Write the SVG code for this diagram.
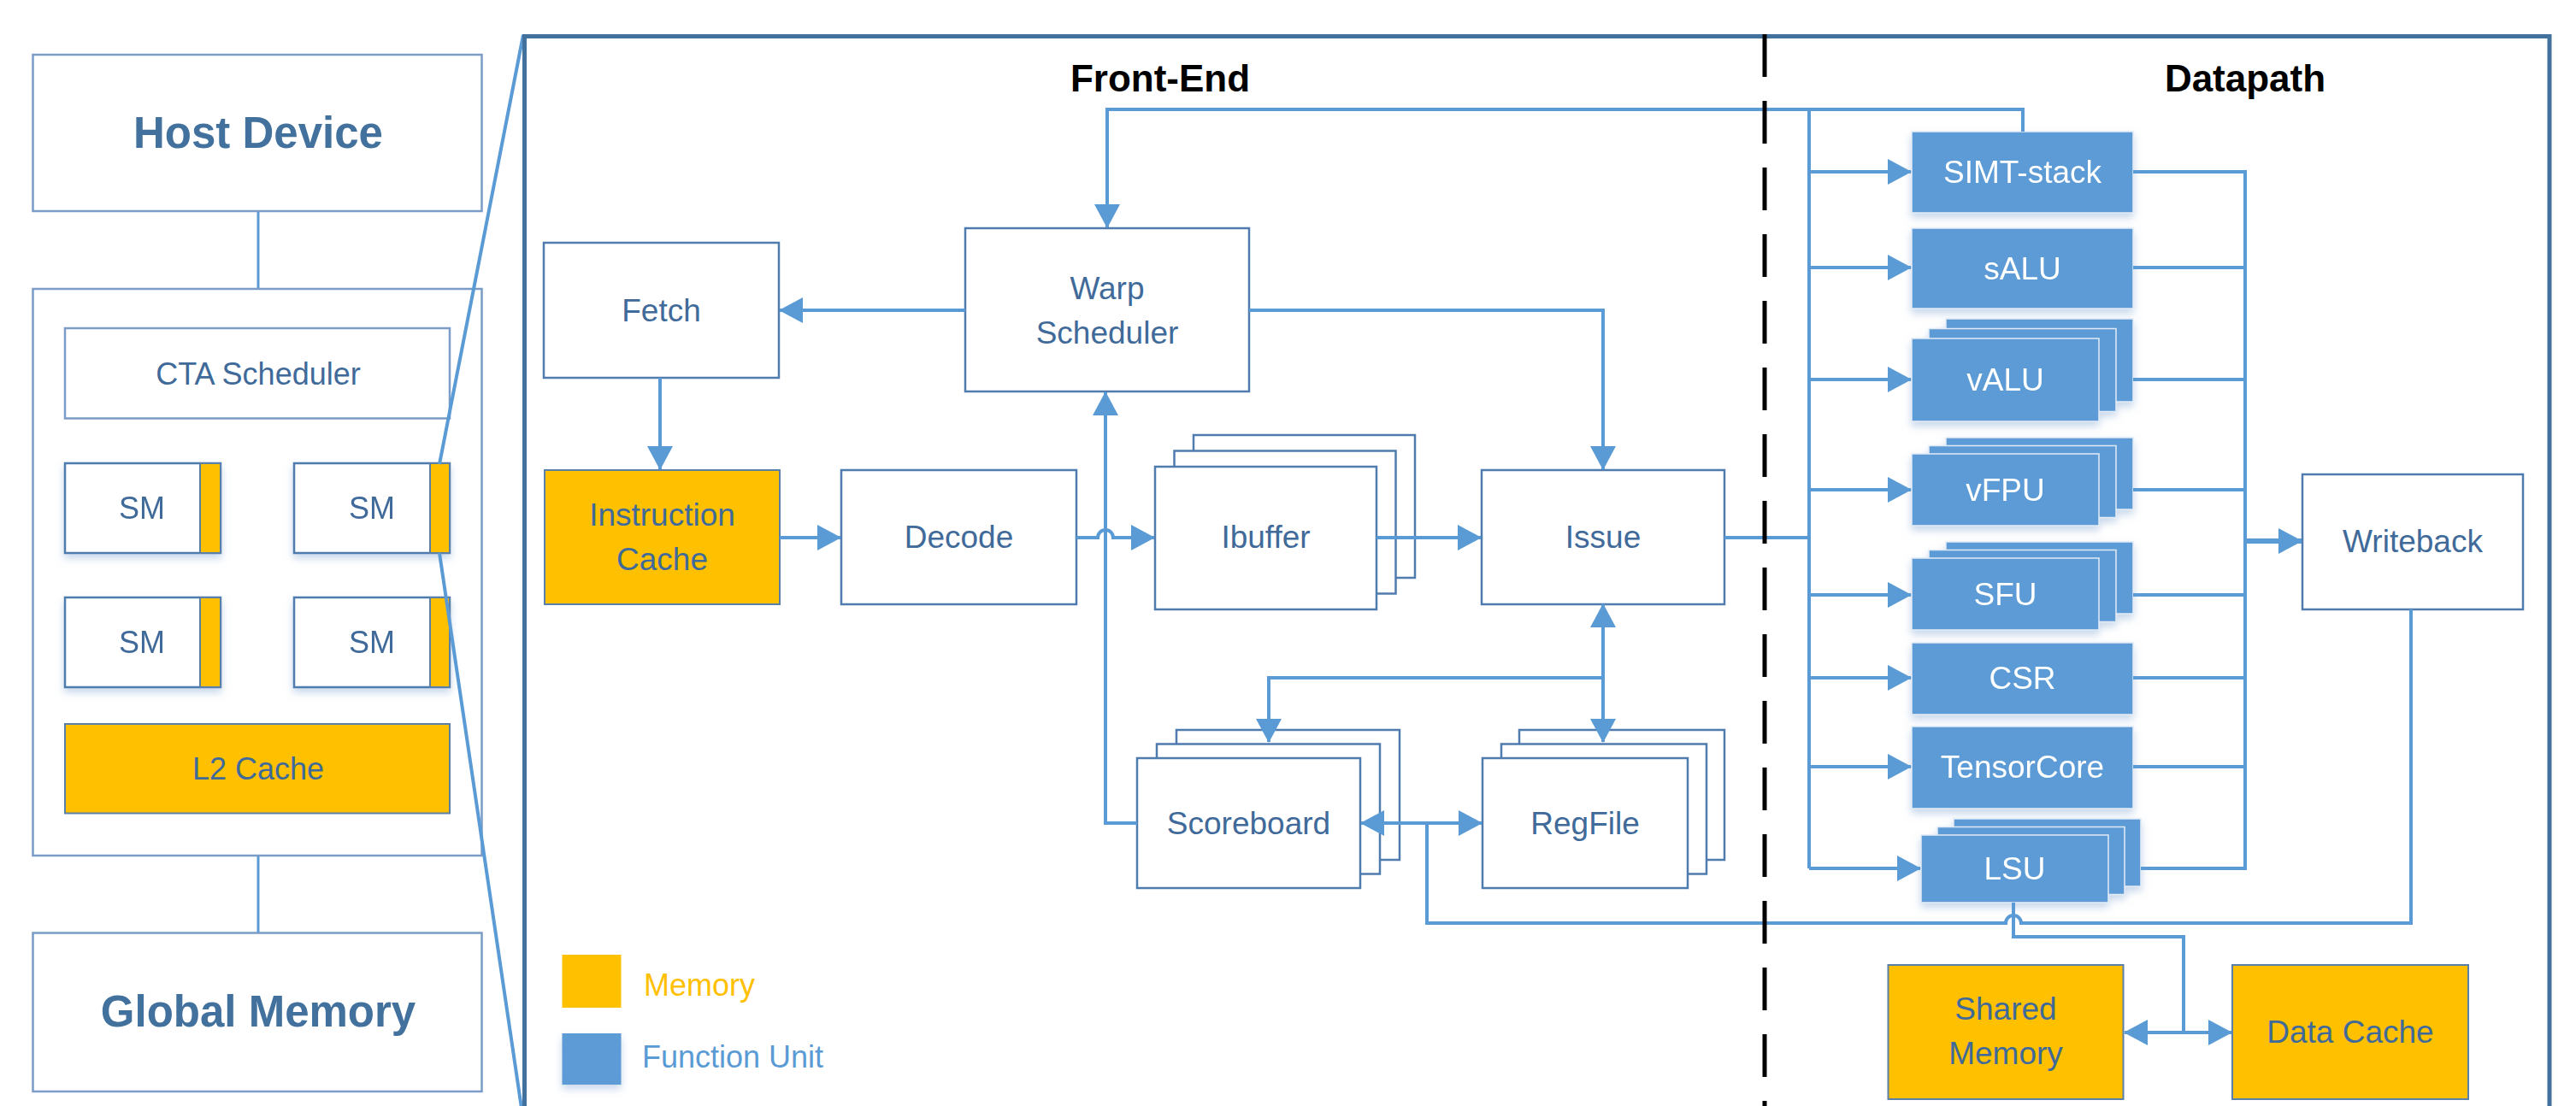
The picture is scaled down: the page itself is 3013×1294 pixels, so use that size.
<svg xmlns="http://www.w3.org/2000/svg" width="3013" height="1294" viewBox="0 0 3013 1294">
<style>
.box{fill:#fff;stroke:#4F7BAE;stroke-width:2.5}
.lbox{fill:#fff;stroke:#7A9CC6;stroke-width:2.5}
.mem{fill:#FFC000;stroke:#5A7FA8;stroke-width:2}
.fu{fill:#5B9BD5;stroke:#E3ECF6;stroke-width:1.5}
.t{font-family:"Liberation Sans",Arial,sans-serif;font-size:37px;fill:#3F6A99;text-anchor:middle}
.lt{font-family:"Liberation Sans",Arial,sans-serif;font-size:36px;fill:#3F6A99;text-anchor:middle}
.w{font-family:"Liberation Sans",Arial,sans-serif;font-size:37px;fill:#fff;text-anchor:middle}
.big{font-family:"Liberation Sans",Arial,sans-serif;font-size:51px;font-weight:bold;fill:#41719C;text-anchor:middle}
.title{font-family:"Liberation Sans",Arial,sans-serif;font-size:44px;font-weight:bold;fill:#000;text-anchor:middle}
.c{fill:none;stroke:#5B9BD5;stroke-width:4}
.lc{fill:none;stroke:#5B9BD5;stroke-width:3}
.a{marker-end:url(#ah)}
.aa{marker-start:url(#ah);marker-end:url(#ah)}
</style>
<defs>
<marker id="ah" markerUnits="userSpaceOnUse" markerWidth="28" markerHeight="30" viewBox="0 0 28 30" refX="27" refY="15" orient="auto-start-reverse">
<path d="M0,0 L28,15 L0,30 z" fill="#5B9BD5"/>
</marker>
<filter id="sh" x="-10%" y="-10%" width="120%" height="140%">
<feDropShadow dx="0" dy="5" stdDeviation="5" flood-color="#8FAFD6" flood-opacity="0.5"/>
</filter>
</defs>
<rect x="0" y="0" width="3013" height="1294" fill="#fff"/>

<!-- left panel -->
<g id="left-connectors">
<path class="lc" d="M302,247 V338"/>
<path class="lc" d="M302,489.5 V847"/>
<path class="lc" d="M167,647 V699 M436,647 V699 M167,671 H436"/>
<path class="lc" d="M302,1001 V1091.5"/>
</g>
<g id="host-device">
<rect class="lbox" x="38.5" y="64" width="525" height="183"/>
<text class="big" x="302" y="173">Host Device</text>
</g>
<g id="gpu">
<rect class="lbox" x="38.5" y="338" width="525" height="663"/>
</g>
<g id="cta-scheduler">
<rect class="lbox" x="76" y="384" width="450" height="105.5"/>
<text class="lt" x="302" y="450">CTA Scheduler</text>
</g>
<g id="sm1" filter="url(#sh)">
<rect class="box" x="76" y="542" width="182" height="105"/>
<rect class="mem" x="234" y="542" width="24" height="105"/>
<text class="lt" x="166" y="607">SM</text>
</g>
<g id="sm2" filter="url(#sh)">
<rect class="box" x="344" y="542" width="182" height="105"/>
<rect class="mem" x="503" y="542" width="23" height="105"/>
<text class="lt" x="435" y="607">SM</text>
</g>
<g id="sm3" filter="url(#sh)">
<rect class="box" x="76" y="699" width="182" height="105"/>
<rect class="mem" x="234" y="699" width="24" height="105"/>
<text class="lt" x="166" y="764">SM</text>
</g>
<g id="sm4" filter="url(#sh)">
<rect class="box" x="344" y="699" width="182" height="105"/>
<rect class="mem" x="503" y="699" width="23" height="105"/>
<text class="lt" x="435" y="764">SM</text>
</g>
<g id="l2-cache">
<rect class="mem" x="76" y="847" width="450" height="104.5"/>
<text class="lt" x="302" y="912">L2 Cache</text>
</g>
<g id="global-memory">
<rect class="lbox" x="38.5" y="1091.5" width="525" height="185.5"/>
<text class="big" x="302" y="1201">Global Memory</text>
</g>

<!-- zoom lines and SM detail frame -->
<g id="zoom-lines">
<path d="M514,543 L612,41 M514,647 L612,1310" fill="none" stroke="#5B9BD5" stroke-width="4"/>
</g>
<g id="sm-detail">
<rect x="613.5" y="42.5" width="2368.5" height="1290" fill="none" stroke="#41719C" stroke-width="5"/>
<text class="title" x="1357" y="107">Front-End</text>
<text class="title" x="2626" y="107">Datapath</text>
</g>

<!-- front-end nodes -->
<g id="fetch">
<rect class="box" x="636" y="284" width="275" height="158"/>
<text class="t" x="773.5" y="376">Fetch</text>
</g>
<g id="warp-scheduler">
<rect class="box" x="1129" y="267" width="332" height="191"/>
<text class="t" x="1295" y="350">Warp</text>
<text class="t" x="1295" y="402">Scheduler</text>
</g>
<g id="instruction-cache">
<rect class="mem" x="637" y="550" width="275" height="157"/>
<text class="t" x="774.5" y="615">Instruction</text>
<text class="t" x="774.5" y="667">Cache</text>
</g>
<g id="decode">
<rect class="box" x="984" y="550" width="275" height="157"/>
<text class="t" x="1121.5" y="641">Decode</text>
</g>
<g id="ibuffer">
<rect class="box" x="1396" y="509" width="259" height="167"/>
<rect class="box" x="1373.5" y="527.5" width="259" height="167"/>
<rect class="box" x="1351" y="546" width="259" height="167"/>
<text class="t" x="1480.5" y="641">Ibuffer</text>
</g>
<g id="issue">
<rect class="box" x="1733" y="550" width="284" height="157"/>
<text class="t" x="1875" y="641">Issue</text>
</g>
<g id="scoreboard">
<rect class="box" x="1376" y="854" width="261" height="152"/>
<rect class="box" x="1353" y="870.5" width="261" height="152"/>
<rect class="box" x="1330" y="887" width="261" height="152"/>
<text class="t" x="1460.5" y="976">Scoreboard</text>
</g>
<g id="regfile">
<rect class="box" x="1777" y="854" width="240" height="152"/>
<rect class="box" x="1756" y="870.5" width="240" height="152"/>
<rect class="box" x="1734" y="887" width="240" height="152"/>
<text class="t" x="1854" y="976">RegFile</text>
</g>

<!-- datapath nodes -->
<g id="simt-stack" filter="url(#sh)">
<rect class="fu" x="2236" y="154" width="259" height="95"/>
<text class="w" x="2365.5" y="214">SIMT-stack</text>
</g>
<g id="salu" filter="url(#sh)">
<rect class="fu" x="2236" y="267" width="259" height="94"/>
<text class="w" x="2365.5" y="327">sALU</text>
</g>
<g id="valu" filter="url(#sh)">
<rect class="fu" x="2276" y="373" width="219" height="97"/>
<rect class="fu" x="2256" y="384.5" width="219" height="97"/>
<rect class="fu" x="2236" y="396" width="219" height="97"/>
<text class="w" x="2345.5" y="457">vALU</text>
</g>
<g id="vfpu" filter="url(#sh)">
<rect class="fu" x="2276" y="512" width="219" height="84"/>
<rect class="fu" x="2256" y="521.5" width="219" height="84"/>
<rect class="fu" x="2236" y="531" width="219" height="84"/>
<text class="w" x="2345.5" y="586">vFPU</text>
</g>
<g id="sfu" filter="url(#sh)">
<rect class="fu" x="2276" y="634" width="219" height="84"/>
<rect class="fu" x="2256" y="643.5" width="219" height="84"/>
<rect class="fu" x="2236" y="653" width="219" height="84"/>
<text class="w" x="2345.5" y="708">SFU</text>
</g>
<g id="csr" filter="url(#sh)">
<rect class="fu" x="2236" y="752" width="259" height="84"/>
<text class="w" x="2365.5" y="806">CSR</text>
</g>
<g id="tensorcore" filter="url(#sh)">
<rect class="fu" x="2236" y="850" width="259" height="96"/>
<text class="w" x="2365.5" y="910">TensorCore</text>
</g>
<g id="lsu" filter="url(#sh)">
<rect class="fu" x="2285" y="958" width="219" height="79"/>
<rect class="fu" x="2266" y="967.5" width="219" height="79"/>
<rect class="fu" x="2247" y="977" width="219" height="79"/>
<text class="w" x="2356.5" y="1029">LSU</text>
</g>
<g id="writeback">
<rect class="box" x="2693" y="555" width="258" height="158"/>
<text class="t" x="2822" y="646">Writeback</text>
</g>
<g id="shared-memory">
<rect class="mem" x="2208.5" y="1129" width="275" height="157"/>
<text class="t" x="2346" y="1193">Shared</text>
<text class="t" x="2346" y="1245">Memory</text>
</g>
<g id="data-cache">
<rect class="mem" x="2611" y="1129" width="276" height="157"/>
<text class="t" x="2749" y="1220">Data Cache</text>
</g>

<!-- legend -->
<g id="legend">
<rect x="657.5" y="1117" width="69" height="62" fill="#FFC000"/>
<text x="753" y="1165" font-family="Liberation Sans, Arial, sans-serif" font-size="36" fill="#FFC000">Memory</text>
<rect x="657.5" y="1209" width="69" height="60" fill="#5B9BD5" filter="url(#sh)"/>
<text x="751" y="1249" font-family="Liberation Sans, Arial, sans-serif" font-size="36" fill="#5B9BD5">Function Unit</text>
</g>

<!-- connectors -->
<g id="connectors">
<path class="c a" d="M1129,363 H912"/>
<path class="c a" d="M772,442 V549"/>
<path class="c a" d="M912,629 H983"/>
<path class="c a" d="M1259,629 H1284 a9,9 0 0 1 18,0 H1350"/>
<path class="c a" d="M1610,629 H1732"/>
<path class="c a" d="M1461,363 H1875 V549"/>
<path class="c a" d="M2366,154 V128 H1295 V266"/>
<path class="c a" d="M1330,963 H1293 V459"/>
<path class="c" d="M1875,707 V793" style="marker-start:url(#ah)"/>
<path class="c a" d="M1875,793 V868"/>
<path class="c a" d="M1875,793 H1484 V868"/>
<path class="c aa" d="M1592,963 H1733"/>
<path class="c" d="M2820,713 V1080 H2364 a9,9 0 0 0 -18,0 H1669 V963"/>
<path class="c" d="M2017,629 H2116 M2116,128 V1016"/>
<path class="c a" d="M2116,201 H2235"/>
<path class="c a" d="M2116,313 H2235"/>
<path class="c a" d="M2116,444 H2235"/>
<path class="c a" d="M2116,573 H2235"/>
<path class="c a" d="M2116,696 H2235"/>
<path class="c a" d="M2116,793 H2235"/>
<path class="c a" d="M2116,897 H2235"/>
<path class="c a" d="M2116,1016 H2246"/>
<path class="c" d="M2495,201 H2626 V1016 H2504 M2495,313 H2626 M2495,444 H2626 M2495,573 H2626 M2495,696 H2626 M2495,793 H2626 M2495,897 H2626"/>
<path class="c a" d="M2626,633 H2692" style="stroke-width:6"/>
<path class="c" d="M2355,1056 V1096 H2554 V1208"/>
<path class="c aa" d="M2485,1208 H2610"/>
</g>
<g id="divider">
<line x1="2064" y1="40" x2="2064" y2="1294" stroke="#000" stroke-width="5" stroke-dasharray="50 28"/>
</g>
</svg>
